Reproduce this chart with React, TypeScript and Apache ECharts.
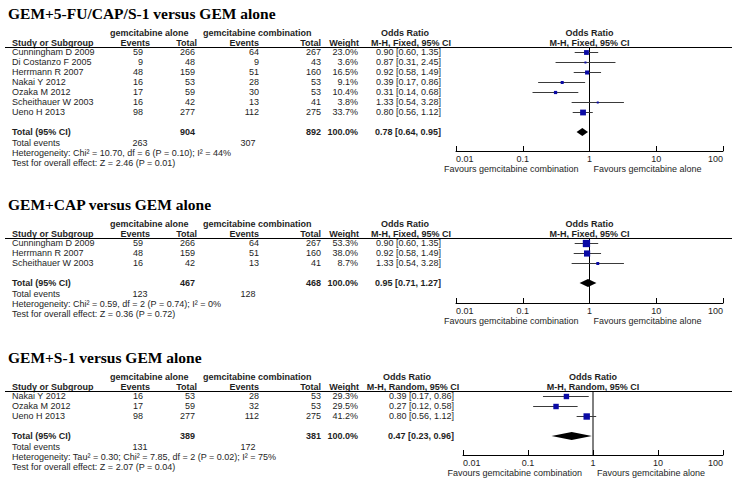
import React, { useEffect, useRef } from "react";
import * as echarts from "echarts";

// ---------- Panel 1: GEM+5-FU/CAP/S-1 versus GEM alone ----------
const p1Title = "GEM+5-FU/CAP/S-1 versus GEM alone";
const p1Method = "M-H, Fixed, 95% CI";
const p1Studies = ["Cunningham D 2009", "Di Costanzo F 2005", "Herrmann R 2007", "Nakai Y 2012", "Ozaka M 2012", "Scheithauer W 2003", "Ueno H 2013"];
const p1EventsAlone = [59, 9, 48, 16, 17, 16, 98];
const p1TotalAlone = [266, 48, 159, 53, 59, 42, 277];
const p1EventsComb = [64, 9, 51, 28, 30, 13, 112];
const p1TotalComb = [267, 43, 160, 53, 53, 41, 275];
const p1Weight = [23.0, 3.6, 16.5, 9.1, 10.4, 3.8, 33.7];
const p1OR = [0.9, 0.87, 0.92, 0.39, 0.31, 1.33, 0.8];
const p1Lo = [0.6, 0.31, 0.58, 0.17, 0.14, 0.54, 0.56];
const p1Hi = [1.35, 2.45, 1.49, 0.86, 0.68, 3.28, 1.12];
const p1Pooled = [0.78, 0.64, 0.95];
const p1Totals = [904, 892];
const p1TotalEvents = [263, 307];
const p1Het = "Heterogeneity: Chi² = 10.70, df = 6 (P = 0.10); I² = 44%";
const p1Test = "Test for overall effect: Z = 2.46 (P = 0.01)";

// ---------- Panel 2: GEM+CAP versus GEM alone ----------
const p2Title = "GEM+CAP versus GEM alone";
const p2Method = "M-H, Fixed, 95% CI";
const p2Studies = ["Cunningham D 2009", "Herrmann R 2007", "Scheithauer W 2003"];
const p2EventsAlone = [59, 48, 16];
const p2TotalAlone = [266, 159, 42];
const p2EventsComb = [64, 51, 13];
const p2TotalComb = [267, 160, 41];
const p2Weight = [53.3, 38.0, 8.7];
const p2OR = [0.9, 0.92, 1.33];
const p2Lo = [0.6, 0.58, 0.54];
const p2Hi = [1.35, 1.49, 3.28];
const p2Pooled = [0.95, 0.71, 1.27];
const p2Totals = [467, 468];
const p2TotalEvents = [123, 128];
const p2Het = "Heterogeneity: Chi² = 0.59, df = 2 (P = 0.74); I² = 0%";
const p2Test = "Test for overall effect: Z = 0.36 (P = 0.72)";

// ---------- Panel 3: GEM+S-1 versus GEM alone ----------
const p3Title = "GEM+S-1 versus GEM alone";
const p3Method = "M-H, Random, 95% CI";
const p3Studies = ["Nakai Y 2012", "Ozaka M 2012", "Ueno H 2013"];
const p3EventsAlone = [16, 17, 98];
const p3TotalAlone = [53, 59, 277];
const p3EventsComb = [28, 32, 112];
const p3TotalComb = [53, 53, 275];
const p3Weight = [29.3, 29.5, 41.2];
const p3OR = [0.39, 0.27, 0.8];
const p3Lo = [0.17, 0.12, 0.56];
const p3Hi = [0.86, 0.58, 1.12];
const p3Pooled = [0.47, 0.23, 0.96];
const p3Totals = [389, 381];
const p3TotalEvents = [131, 172];
const p3Het = "Heterogeneity: Tau² = 0.30; Chi² = 7.85, df = 2 (P = 0.02); I² = 75%";
const p3Test = "Test for overall effect: Z = 2.07 (P = 0.04)";

const tickLabels = ["0.01", "0.1", "1", "10", "100"];
const favoursLeft = "Favours gemcitabine combination";
const favoursRight = "Favours gemcitabine alone";

const panels = [
  { title: p1Title, method: p1Method, studies: p1Studies, ea: p1EventsAlone, ta: p1TotalAlone, ec: p1EventsComb, tc: p1TotalComb, w: p1Weight, or: p1OR, lo: p1Lo, hi: p1Hi, pooled: p1Pooled, totals: p1Totals, tev: p1TotalEvents, het: p1Het, test: p1Test },
  { title: p2Title, method: p2Method, studies: p2Studies, ea: p2EventsAlone, ta: p2TotalAlone, ec: p2EventsComb, tc: p2TotalComb, w: p2Weight, or: p2OR, lo: p2Lo, hi: p2Hi, pooled: p2Pooled, totals: p2Totals, tev: p2TotalEvents, het: p2Het, test: p2Test },
  { title: p3Title, method: p3Method, studies: p3Studies, ea: p3EventsAlone, ta: p3TotalAlone, ec: p3EventsComb, tc: p3TotalComb, w: p3Weight, or: p3OR, lo: p3Lo, hi: p3Hi, pooled: p3Pooled, totals: p3Totals, tev: p3TotalEvents, het: p3Het, test: p3Test },
];

// layout (pixels)
const layouts = [
  { lineY: 47, x0: 456, x1: 723, orRight: 441, orHdr: 405, mhHdr: 411 },
  { lineY: 238, x0: 456, x1: 723, orRight: 441, orHdr: 405, mhHdr: 411 },
  { lineY: 391, x0: 463, x1: 723, orRight: 454, orHdr: 407, mhHdr: 413 },
];

const SANS = "'Liberation Sans', Arial, Helvetica, sans-serif";
const SERIF = "'Liberation Serif', 'Times New Roman', serif";
const FS = 9;
const TXT = "#1e1e1e";
const ROW = 10;

function txt(text: string, x: number, y: number, align = "left", bold = false, size = FS, family = SANS, fill = TXT) {
  return {
    type: "text",
    x,
    y,
    silent: true,
    style: { text, fontSize: size, fontFamily: family, fontWeight: bold ? "bold" : "normal", fill, align, verticalAlign: "middle" },
  };
}

function buildOption() {
  const graphics: any[] = [];
  const grids: any[] = [];
  const xAxes: any[] = [];
  const yAxes: any[] = [];
  const series: any[] = [];

  panels.forEach((p, i) => {
    const L = layouts[i];
    const n = p.studies.length;
    const rowY = (k: number) => L.lineY + 5 + ROW * k;
    const totalRow = n + 1;
    const totalY = rowY(totalRow);
    const axisY = totalY + (i === 1 ? 20 : 19);
    const yMax = -0.5 + (axisY - L.lineY) / ROW;
    const mid = (L.x0 + L.x1) / 2;

    // title
    graphics.push(txt(p.title, 8, L.lineY - 34, "left", true, 15.5, SERIF, "#000"));
    // group headers
    graphics.push(txt("gemcitabine alone", 110, L.lineY - 14, "left", true));
    graphics.push(txt("gemcitabine combination", 203, L.lineY - 14, "left", true));
    graphics.push(txt("Odds Ratio", L.orHdr, L.lineY - 14, "center", true));
    graphics.push(txt("Odds Ratio", mid, L.lineY - 14, "center", true));
    // sub headers
    const hy = L.lineY - 4;
    graphics.push(txt("Study or Subgroup", 12, hy, "left", true));
    graphics.push(txt("Events", 150, hy, "right", true));
    graphics.push(txt("Total", 197, hy, "right", true));
    graphics.push(txt("Events", 259, hy, "right", true));
    graphics.push(txt("Total", 321, hy, "right", true));
    graphics.push(txt("Weight", 359, hy, "right", true));
    graphics.push(txt(p.method, L.mhHdr, hy, "center", true));
    graphics.push(txt(p.method, mid, hy, "center", true));
    // header rule
    graphics.push({ type: "line", silent: true, shape: { x1: 5, y1: L.lineY + 0.5, x2: 732, y2: L.lineY + 0.5 }, style: { stroke: "#000", lineWidth: 1 } });

    // study rows
    p.studies.forEach((s, k) => {
      const y = rowY(k);
      graphics.push(txt(s, 12, y));
      graphics.push(txt(String(p.ea[k]), 143, y, "right"));
      graphics.push(txt(String(p.ta[k]), 195, y, "right"));
      graphics.push(txt(String(p.ec[k]), 259, y, "right"));
      graphics.push(txt(String(p.tc[k]), 321, y, "right"));
      graphics.push(txt(p.w[k].toFixed(1) + "%", 358, y, "right"));
      graphics.push(txt(`${p.or[k].toFixed(2)} [${p.lo[k].toFixed(2)}, ${p.hi[k].toFixed(2)}]`, L.orRight, y, "right"));
    });
    // totals
    graphics.push(txt("Total (95% CI)", 12, totalY, "left", true));
    graphics.push(txt(String(p.totals[0]), 195, totalY, "right", true));
    graphics.push(txt(String(p.totals[1]), 321, totalY, "right", true));
    graphics.push(txt("100.0%", 358, totalY, "right", true));
    graphics.push(txt(`${p.pooled[0].toFixed(2)} [${p.pooled[1].toFixed(2)}, ${p.pooled[2].toFixed(2)}]`, L.orRight, totalY, "right", true));
    graphics.push(txt("Total events", 12, totalY + 11));
    graphics.push(txt(String(p.tev[0]), 140, totalY + 11, "center"));
    graphics.push(txt(String(p.tev[1]), 248, totalY + 11, "center"));
    graphics.push(txt(p.het, 12, totalY + 21));
    graphics.push(txt(p.test, 12, totalY + 31));
    // favours
    graphics.push(txt(favoursLeft, mid - 11, axisY + 18, "right"));
    graphics.push(txt(favoursRight, mid + 4, axisY + 18, "left"));

    grids.push({ left: L.x0, top: L.lineY, width: L.x1 - L.x0, height: axisY - L.lineY, containLabel: false, outerBoundsMode: "none" });
    xAxes.push({
      type: "log",
      gridIndex: i,
      logBase: 10,
      min: 0.01,
      max: 100,
      axisLine: { show: true, onZero: false, lineStyle: { color: "#000", width: 1 } },
      axisTick: { show: true, inside: true, length: 5, lineStyle: { color: "#000", width: 1 } },
      minorTick: { show: false },
      splitLine: { show: false },
      axisLabel: {
        show: true,
        fontSize: FS,
        fontFamily: SANS,
        color: TXT,
        margin: 3,
        showMinLabel: true,
        showMaxLabel: true,
        alignMinLabel: "left",
        alignMaxLabel: "right",
        formatter: (v: number) => tickLabels[Math.round(Math.log10(v)) + 2] ?? "",
      },
    });
    yAxes.push({ type: "value", gridIndex: i, min: -0.5, max: yMax, inverse: true, show: false });

    // vertical line of no effect
    series.push({
      type: "line",
      xAxisIndex: i,
      yAxisIndex: i,
      data: [[1, -0.5], [1, yMax]],
      symbol: "none",
      silent: true,
      lineStyle: { color: "#000", width: 1 },
      z: 1,
    });

    // study estimates
    series.push({
      type: "custom",
      xAxisIndex: i,
      yAxisIndex: i,
      silent: true,
      z: 3,
      data: p.studies.map((_, k) => [p.or[k], p.lo[k], p.hi[k], k, p.w[k]]),
      encode: { x: [0, 1, 2], y: 3 },
      renderItem: (params: any, api: any) => {
        const y = api.value(3);
        const c = api.coord([api.value(0), y]);
        const a = api.coord([api.value(1), y]);
        const b = api.coord([api.value(2), y]);
        const s = Math.max(2, Math.sqrt(api.value(4)));
        const yy = Math.round(c[1]) + 0.5;
        return {
          type: "group",
          children: [
            { type: "line", shape: { x1: a[0], y1: yy, x2: b[0], y2: yy }, style: { stroke: "#3a3a3a", lineWidth: 1 } },
            { type: "rect", shape: { x: c[0] - s / 2, y: yy - s / 2, width: s, height: s }, style: { fill: "#0a0aa5" } },
          ],
        };
      },
    });

    // pooled diamond
    series.push({
      type: "custom",
      xAxisIndex: i,
      yAxisIndex: i,
      silent: true,
      z: 3,
      data: [[p.pooled[0], p.pooled[1], p.pooled[2], totalRow]],
      encode: { x: [0, 1, 2], y: 3 },
      renderItem: (params: any, api: any) => {
        const y = api.value(3);
        const c = api.coord([api.value(0), y]);
        const a = api.coord([api.value(1), y]);
        const b = api.coord([api.value(2), y]);
        const h = 4;
        return {
          type: "polygon",
          shape: { points: [[a[0], c[1]], [c[0], c[1] - h], [b[0], c[1]], [c[0], c[1] + h]] },
          style: { fill: "#000" },
        };
      },
    });
  });

  return {
    animation: false,
    backgroundColor: "#fff",
    grid: grids,
    xAxis: xAxes,
    yAxis: yAxes,
    series,
    graphic: { elements: graphics },
  };
}

export default function App() {
  const ref = useRef<HTMLDivElement>(null);
  useEffect(() => {
    if (!ref.current) return;
    const chart = echarts.init(ref.current, undefined, { renderer: "svg" });
    chart.setOption(buildOption() as any);
    return () => chart.dispose();
  }, []);
  return <div ref={ref} style={{ position: "absolute", left: 0, top: 0, width: 736, height: 482, background: "#fff" }} />;
}
